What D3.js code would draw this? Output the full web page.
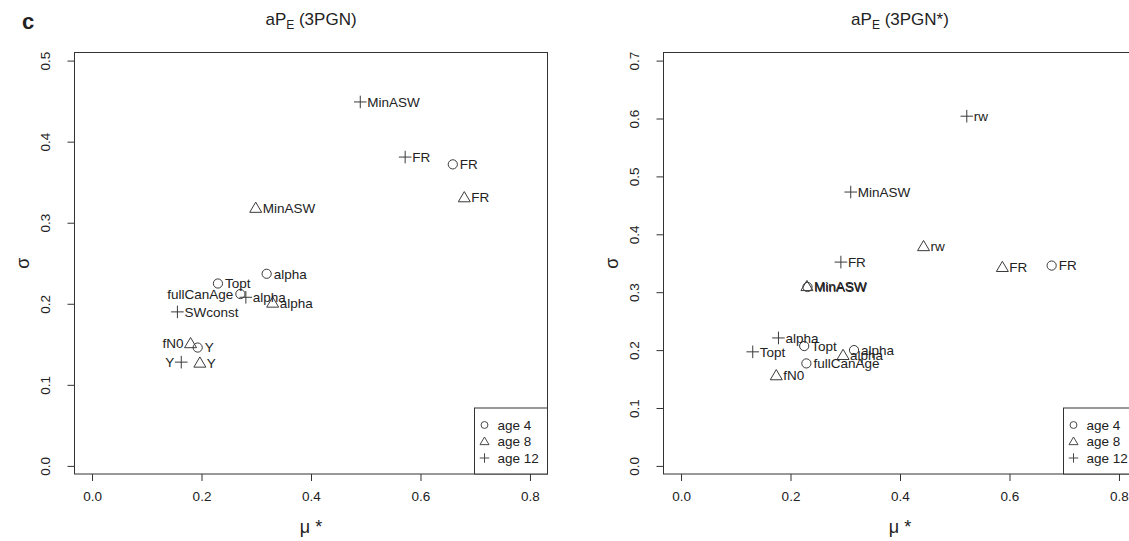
<!DOCTYPE html>
<html>
<head>
<meta charset="utf-8">
<script src="https://cdn.jsdelivr.net/npm/d3@7"></script>
<style>
  body { margin: 0; background: #fff; }
  text { font-family: "Liberation Sans", Arial, sans-serif; fill: #222; }
</style>
</head>
<body>
<div id="container"></div>
<script>
/**
 * CONSTANTS AND GLOBALS
 * */
const width = 1129,
    height = 541;

// shared axis ticks
const xTicks = [0, 0.2, 0.4, 0.6, 0.8];
const yTicksLeft = [0, 0.1, 0.2, 0.3, 0.4, 0.5];
const yTicksRight = [0, 0.1, 0.2, 0.3, 0.4, 0.5, 0.6, 0.7];
const legendAges = ["age 4", "age 8", "age 12"];

// panel 1: aPE (3PGN)
const leftParams = ["MinASW", "FR", "FR", "FR", "MinASW", "alpha", "Topt", "fullCanAge", "alpha", "alpha", "SWconst", "fN0", "Y", "Y", "Y"];
const leftAge    = [12, 12, 4, 8, 8, 4, 4, 4, 12, 8, 12, 8, 4, 12, 8];
const leftMu     = [0.490, 0.572, 0.659, 0.680, 0.299, 0.319, 0.230, 0.271, 0.281, 0.330, 0.156, 0.180, 0.193, 0.163, 0.197];
const leftSigma  = [0.449, 0.381, 0.372, 0.331, 0.318, 0.237, 0.225, 0.212, 0.208, 0.201, 0.190, 0.151, 0.146, 0.128, 0.127];
const leftSide   = ["r", "r", "r", "r", "r", "r", "r", "l", "r", "r", "r", "l", "r", "l", "r"];

// panel 2: aPE (3PGN*)
const rightParams = ["rw", "MinASW", "rw", "FR", "FR", "FR", "MinASW", "MinASW", "alpha", "Topt", "Topt", "alpha", "alpha", "fullCanAge", "fN0"];
const rightAge    = [12, 12, 8, 12, 8, 4, 8, 4, 12, 12, 4, 4, 8, 4, 8];
const rightMu     = [0.522, 0.310, 0.443, 0.292, 0.587, 0.677, 0.230, 0.231, 0.178, 0.131, 0.225, 0.316, 0.296, 0.229, 0.174];
const rightSigma  = [0.604, 0.473, 0.379, 0.352, 0.343, 0.346, 0.310, 0.309, 0.221, 0.197, 0.207, 0.200, 0.191, 0.177, 0.156];
const rightSide   = ["r", "r", "r", "r", "r", "r", "r", "r", "r", "r", "r", "r", "r", "r", "r"];

const ink = "#333";

const svg = d3.select("#container")
    .append("svg")
    .attr("width", width)
    .attr("height", height);

// panel letter
svg.append("text")
    .attr("x", 22).attr("y", 29)
    .style("font-size", "22px").style("font-weight", "bold")
    .text("c");

// symbol path per age (pch 1, 2, 3 in R)
function symbolPath(age) {
    if (age === 4) {
        const r = 4.6;
        return `M${-r},0A${r},${r} 0 1,0 ${r},0A${r},${r} 0 1,0 ${-r},0Z`;
    }
    if (age === 8) {
        return "M0,-6L6,4.2L-6,4.2Z";
    }
    return "M-6.3,0H6.3M0,-6.3V6.3";
}

function drawPanel(opts) {
    const { left, right, top, bottom, yMax, yTicks, title, params, age, mu, sigma, side } = opts;

    const xScale = d3.scaleLinear()
        .domain([-0.032, 0.832])
        .range([left, right]);
    const yScale = d3.scaleLinear()
        .domain([-0.04 * yMax / 2, yMax + 0.04 * yMax / 2])
        .range([bottom, top]);

    const g = svg.append("g");

    // title with subscript
    const t = g.append("text")
        .attr("x", (left + right) / 2)
        .attr("y", 25)
        .attr("text-anchor", "middle")
        .style("font-size", "17px");
    t.append("tspan").text("aP");
    t.append("tspan").attr("dy", 4).style("font-size", "12px").text("E");
    t.append("tspan").attr("dy", -4).text(title);

    // x axis
    const xAxis = d3.axisBottom(xScale)
        .tickValues(xTicks)
        .tickFormat(d3.format(".1f"))
        .tickSize(7)
        .tickPadding(10)
        .tickSizeOuter(0);
    const xg = g.append("g")
        .attr("transform", `translate(0,${bottom})`)
        .call(xAxis);
    xg.select(".domain").remove();
    xg.selectAll("line").attr("stroke", ink);
    xg.selectAll("text")
        .style("font-size", "13.5px")
        .style("font-family", "Liberation Sans, Arial, sans-serif")
        .attr("fill", "#222");

    // y axis
    const yAxis = d3.axisLeft(yScale)
        .tickValues(yTicks)
        .tickFormat(d3.format(".1f"))
        .tickSize(7)
        .tickSizeOuter(0);
    const yg = g.append("g")
        .attr("transform", `translate(${left},0)`)
        .call(yAxis);
    yg.select(".domain").remove();
    yg.selectAll("line").attr("stroke", ink);
    yg.selectAll("text")
        .attr("x", null).attr("dy", null)
        .attr("text-anchor", "middle")
        .attr("transform", "translate(-25,0) rotate(-90)")
        .attr("dy", "0.05em")
        .style("font-size", "13.5px")
        .style("font-family", "Liberation Sans, Arial, sans-serif")
        .attr("fill", "#222");

    // axis titles
    g.append("text")
        .attr("transform", `translate(${left - 52},${(top + bottom) / 2}) rotate(-90)`)
        .attr("text-anchor", "middle")
        .attr("dy", "0.35em")
        .style("font-size", "18px")
        .text("σ");
    g.append("text")
        .attr("x", (left + right) / 2)
        .attr("y", 533)
        .attr("text-anchor", "middle")
        .style("font-size", "18px")
        .text("μ *");

    // box
    g.append("rect")
        .attr("x", left).attr("y", top)
        .attr("width", right - left).attr("height", bottom - top)
        .attr("fill", "none").attr("stroke", ink).attr("stroke-width", 1);

    // points
    const pts = params.map((p, i) => ({ p, age: age[i], mu: mu[i], sigma: sigma[i], side: side[i] }));

    g.selectAll("path.pt")
        .data(pts)
        .join("path")
        .attr("class", "pt")
        .attr("transform", d => `translate(${xScale(d.mu)},${yScale(d.sigma)})`)
        .attr("d", d => symbolPath(d.age))
        .attr("fill", "none")
        .attr("stroke", "#3a3a3a")
        .attr("stroke-width", 1);

    g.selectAll("text.lab")
        .data(pts)
        .join("text")
        .attr("class", "lab")
        .attr("x", d => xScale(d.mu) + (d.side === "l" ? -7 : 7))
        .attr("y", d => yScale(d.sigma))
        .attr("dy", "0.35em")
        .attr("text-anchor", d => d.side === "l" ? "end" : "start")
        .style("font-size", "13.5px")
        .text(d => d.p);

    // legend (bottom right)
    const lw = 73, lh = 66;
    const lg = g.append("g")
        .attr("transform", `translate(${right - lw},${bottom - lh})`);
    lg.append("rect")
        .attr("width", lw).attr("height", lh)
        .attr("fill", "#fff").attr("stroke", ink);
    const legAges = [4, 8, 12];
    lg.selectAll("path")
        .data(legAges)
        .join("path")
        .attr("transform", (d, i) => `translate(10,${17 + i * 16.5}) scale(0.75)`)
        .attr("d", d => symbolPath(d))
        .attr("fill", "none").attr("stroke", "#444")
        .attr("stroke-width", 1.3);
    lg.selectAll("text")
        .data(legendAges)
        .join("text")
        .attr("x", 23)
        .attr("y", (d, i) => 17 + i * 16.5)
        .attr("dy", "0.35em")
        .style("font-size", "13.5px")
        .text(d => d);
}

drawPanel({
    left: 74.5, right: 547.5, top: 52.5, bottom: 474,
    yMax: 0.5, yTicks: yTicksLeft, title: " (3PGN)",
    params: leftParams, age: leftAge, mu: leftMu, sigma: leftSigma, side: leftSide
});

drawPanel({
    left: 663.5, right: 1136.5, top: 52.5, bottom: 474,
    yMax: 0.7, yTicks: yTicksRight, title: " (3PGN*)",
    params: rightParams, age: rightAge, mu: rightMu, sigma: rightSigma, side: rightSide
});
</script>
</body>
</html>
